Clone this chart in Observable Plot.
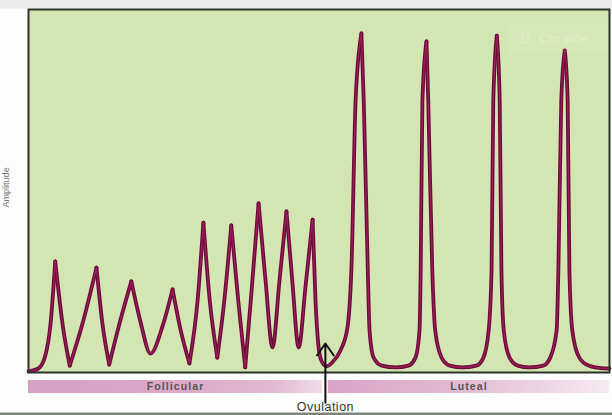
<!DOCTYPE html>
<html>
<head>
<meta charset="utf-8">
<script src="https://cdn.jsdelivr.net/npm/d3@7"></script>
<script src="https://cdn.jsdelivr.net/npm/@observablehq/plot@0.6"></script>
<style>
  html, body { margin: 0; padding: 0; background: #fdfdfd; }
  #chart { width: 612px; height: 415px; overflow: hidden; }
</style>
</head>
<body>
<div id="chart"></div>
<script>
// Pulse amplitude over the cycle (time as % of cycle, amplitude in arbitrary units 0–100)
const time = [
  0, 1.7, 2.9, 3.8, 4.6, 5.9, 7.1, 9.3, 11.7, 12.7, 13.9, 15.8, 17.7, 19.3, 21.0, 23.1, 24.8, 26.2, 27.7,
  29.1, 30.1, 31.2, 32.5, 33.7, 34.9, 36.1, 37.3, 38.4, 39.6, 40.8, 42.0, 43.2, 44.4, 45.4, 46.5, 47.7, 48.9,
  49.4, 49.9, 50.4, 51.3, 52.3, 53.7, 54.9, 55.6, 56.3, 57.3, 57.7, 58.4, 58.7, 59.4, 60.8, 63.2, 65.4,
  66.6, 67.3, 67.5, 67.8, 68.5, 68.8, 69.5, 70.0, 71.1, 72.5, 74.7, 77.1, 78.3, 79.2, 79.7, 80.0, 80.6,
  81.1, 81.4, 81.8, 82.8, 84.2, 86.2, 88.6, 89.8, 90.9, 91.2, 91.7, 92.3, 92.8, 93.1, 93.6, 94.8, 96.4,
  98.5, 100
];
const amplitude = [
  0.3, 1.1, 4.7, 13.5, 30.6, 12.9, 1.9, 13.5, 28.9, 13.8, 2.2, 14.3, 25.1, 13.8, 5.2, 12.9, 22.9, 11.6, 2.5,
  19.8, 41.3, 19.8, 4.1, 19.8, 40.5, 19.8, 1.4, 22.6, 46.6, 25.3, 6.9, 25.3, 44.4, 25.3, 6.9, 24.0, 42.1,
  19.8, 7.4, 3.3, 1.7, 2.8, 6.1, 12.4, 29.5, 74.9, 93.4, 74.9, 28.1, 11.6, 4.1, 1.9, 1.4, 1.9,
  4.1, 11.6, 28.1, 74.9, 91.2, 74.9, 28.1, 11.6, 4.1, 1.9, 1.4, 1.9, 4.1, 11.6, 28.1, 74.9, 92.8,
  74.9, 28.1, 11.6, 4.1, 1.9, 1.4, 1.9, 4.1, 11.6, 28.1, 74.9, 88.7, 74.9, 28.1, 11.6, 4.1, 1.9,
  1.2, 1.1
];
// pulse peaks are sharp: the curve is smoothed between peaks only
const peakTimes = [4.6, 11.7, 17.7, 24.8, 30.1, 34.9, 39.6, 44.4, 48.9, 57.3, 68.5, 80.6, 92.3];
// some follicular troughs are sharp V's as well
const sharpTroughTimes = [7.1, 13.9, 27.7, 32.5, 37.3];

// Cycle phases
const phases = ["Follicular", "Luteal"];
const phaseStart = [0, 51.6];
const phaseEnd = [50.6, 100];
const phaseGradient = ["url(#gradFol)", "url(#gradLut)"];

// Ovulation marker
const ovulationLabel = "Ovulation";
const ovulationTime = 51.1;

const yLabel = "Amplitude";

// split the series into arms at every sharp corner (shared end points duplicated)
const breaks = new Set([...peakTimes, ...sharpTroughTimes]);
const arms = [];
let arm = 0;
time.forEach((t, i) => {
  arms.push({ t, a: amplitude[i], arm });
  if (breaks.has(t)) {
    arm += 1;
    arms.push({ t, a: amplitude[i], arm });
  }
});

const phaseRows = phases.map((p, i) => ({
  name: p, x1: phaseStart[i], x2: phaseEnd[i], mid: (phaseStart[i] + phaseEnd[i]) / 2, fill: phaseGradient[i]
}));

// decorative page chrome (slide screenshot borders, gradients, watermark)
const chrome = (index, scales, values, dims) => {
  const g = d3.create("svg:g");
  const defs = g.append("defs");
  const gf = defs.append("linearGradient").attr("id", "gradFol").attr("x1", "0%").attr("x2", "100%");
  gf.append("stop").attr("offset", "0%").attr("stop-color", "#d7a1c1");
  gf.append("stop").attr("offset", "55%").attr("stop-color", "#dcaac8");
  gf.append("stop").attr("offset", "85%").attr("stop-color", "#e3bad3");
  gf.append("stop").attr("offset", "100%").attr("stop-color", "#f1dde9");
  const gl = defs.append("linearGradient").attr("id", "gradLut").attr("x1", "0%").attr("x2", "100%");
  gl.append("stop").attr("offset", "0%").attr("stop-color", "#d9a4c4");
  gl.append("stop").attr("offset", "45%").attr("stop-color", "#e2b9d2");
  gl.append("stop").attr("offset", "100%").attr("stop-color", "#f5eaf1");
  g.append("rect").attr("x", 0).attr("y", 0).attr("width", dims.width).attr("height", 8.5).attr("fill", "#ebebeb");
  return g.node();
};

const chromeTop = (index, scales, values, dims) => {
  const g = d3.create("svg:g");
  g.append("rect").attr("x", 0).attr("y", 412.5).attr("width", dims.width).attr("height", 4).attr("fill", "#7e8679");
  // faint "Clip slide" watermark
  g.append("rect").attr("x", 509).attr("y", 25).attr("width", 98).attr("height", 27).attr("rx", 2)
    .attr("fill", "#ffffff").attr("fill-opacity", 0.08);
  g.append("rect").attr("x", 522).attr("y", 33).attr("width", 6).attr("height", 10).attr("rx", 1)
    .attr("fill", "none").attr("stroke", "#ffffff").attr("stroke-opacity", 0.3).attr("stroke-width", 1.2);
  g.append("text").attr("x", 539).attr("y", 42.5).attr("text-anchor", "start").attr("font-size", 12)
    .attr("fill", "#ffffff").attr("fill-opacity", 0.3)
    .attr("font-family", "Liberation Sans, Arial, sans-serif").text("Clip slide");
  return g.node();
};

const chart = Plot.plot({
  width: 612,
  height: 415,
  marginLeft: 28,
  marginRight: 3,
  marginTop: 9,
  marginBottom: 43,
  x: { domain: [0, 100], axis: null },
  y: { domain: [0, 100], axis: null },
  style: { background: "transparent", fontFamily: "Liberation Sans, Arial, sans-serif", overflow: "visible" },
  marks: [
    chrome,
    Plot.frame({ fill: "#d3e6b1" }),
    Plot.line(arms, { x: "t", y: "a", z: "arm", curve: "monotone-x", stroke: "#6b0a3a", strokeWidth: 3.8, strokeLinecap: "round" }),
    Plot.line(arms, { x: "t", y: "a", z: "arm", curve: "monotone-x", stroke: "#9a1d58", strokeWidth: 1.3, strokeLinecap: "round" }),
    Plot.frame({ stroke: "#2c3428", strokeWidth: 2 }),
    Plot.rect(phaseRows, { x1: "x1", x2: "x2", y1: -2.2, y2: -5.8, fill: "fill" }),
    Plot.text(phaseRows, { x: "mid", y: -4.0, text: "name", fontWeight: "bold", fontSize: 10.5, fill: "#555" }),
    Plot.arrow([ovulationTime], { x1: d => d, x2: d => d, y1: -8.3, y2: 8.0, stroke: "#111", strokeWidth: 2, headLength: 11, headAngle: 70 }),
    Plot.text([ovulationLabel], { x: ovulationTime, y: -9.4, text: d => d, fontSize: 12.5, fill: "#333", lineAnchor: "middle" }),
    Plot.text([yLabel], { x: -3.8, y: 51, text: d => d, rotate: -90, fontSize: 9, fill: "#777" }),
    chromeTop
  ]
});

d3.select(chart).selectAll("text").filter(function () {
  return phases.includes(this.textContent);
}).style("letter-spacing", "1.1px");
d3.select(chart).selectAll("text").filter(function () {
  return this.textContent === ovulationLabel;
}).style("letter-spacing", "0.5px");

document.getElementById("chart").appendChild(chart);
</script>
</body>
</html>
